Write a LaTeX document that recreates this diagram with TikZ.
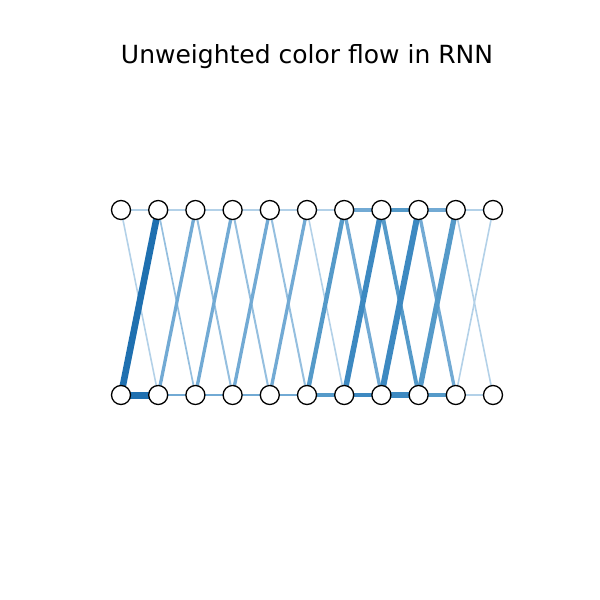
\documentclass[tikz,border=0pt]{standalone}
\usepackage{fontspec}
\setmainfont{DejaVu Sans}
\usetikzlibrary{backgrounds}
\definecolor{ca}{HTML}{B3D1E8}
\definecolor{cb}{HTML}{95BFDF}
\definecolor{cc}{HTML}{72AAD4}
\definecolor{cd}{HTML}{559AC9}
\definecolor{ce}{HTML}{3D89C1}
\definecolor{cf}{HTML}{2B7CBA}
\definecolor{cg}{HTML}{1F70B0}
\tikzset{
  vert/.style={circle,draw=black,fill=white,line width=1.3pt,minimum size=19pt,inner sep=0pt},
  flow/.style={line cap=butt}
}
\begin{document}
\begin{tikzpicture}[x=1pt,y=-1pt]
\useasboundingbox (0,0) rectangle (600,600);
\node[font=\fontsize{25}{28}\selectfont] (title) at (307,57) {Unweighted color flow in RNN};
\foreach \i in {0,...,10} {
  \node[vert] (t\i) at ({121+37.2*\i},210) {};
  \node[vert] (b\i) at ({121+37.2*\i},395) {};
}
\begin{pgfonlayer}{background}
% top horizontals
\foreach \i/\j/\w/\c in {0/1/1.1/ca,1/2/1.6/ca,2/3/1.6/ca,3/4/1.6/ca,4/5/1.6/ca,5/6/1.1/ca,6/7/3.3/cc,7/8/4/cd,8/9/3.3/cc,9/10/1.1/ca}
  \draw[flow,line width=\w pt,draw=\c] (t\i.center) -- (t\j.center);
% bottom horizontals
\foreach \i/\j/\w/\c in {0/1/7/cg,1/2/2.9/cc,2/3/2.9/cc,3/4/2.9/cc,4/5/2.9/cc,5/6/4/cd,6/7/4.6/ce,7/8/5.5/ce,8/9/4.4/cd,9/10/1.6/ca}
  \draw[flow,line width=\w pt,draw=\c] (b\i.center) -- (b\j.center);
% down diagonals
\foreach \i/\j/\w/\c in {0/1/1.6/ca,1/2/1.7/cb,2/3/2/cb,3/4/2/cb,4/5/2/cb,5/6/1.6/ca,6/7/3.3/cc,7/8/3.9/cd,8/9/3.3/cc,9/10/1.6/ca}
  \draw[flow,line width=\w pt,draw=\c] (t\i.center) -- (b\j.center);
% up diagonals
\foreach \i/\j/\w/\c in {0/1/6.6/cg,1/2/3.3/cc,2/3/3.3/cc,3/4/3.3/cc,4/5/3.3/cc,5/6/4.4/cd,6/7/5.5/ce,7/8/6/ce,8/9/5.3/cd,9/10/1.6/ca}
  \draw[flow,line width=\w pt,draw=\c] (b\i.center) -- (t\j.center);
\end{pgfonlayer}
\end{tikzpicture}
\end{document}
